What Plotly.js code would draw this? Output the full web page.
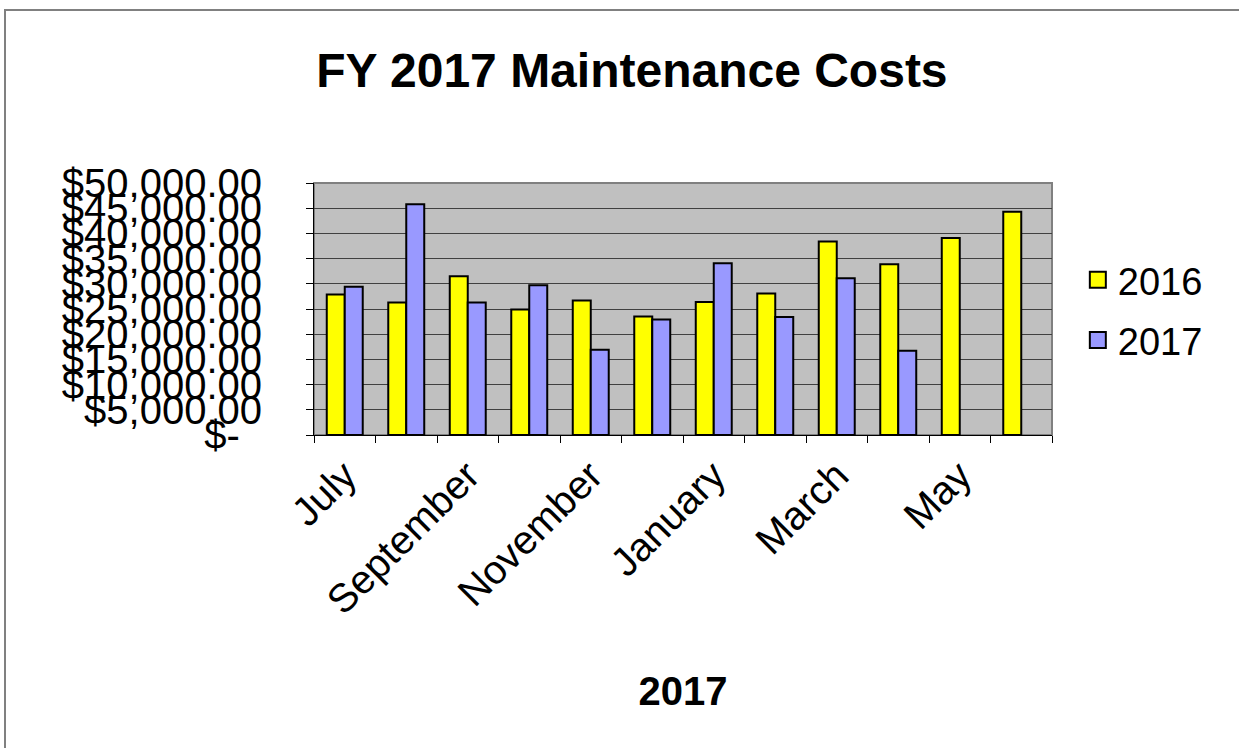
<!DOCTYPE html>
<html>
<head>
<meta charset="utf-8">
<script src="https://cdn.plot.ly/plotly-3.0.1.min.js"></script>
<style>html,body{margin:0;padding:0;background:#fff;}#chart{width:1239px;height:748px;}</style>
</head>
<body>
<div id="chart"></div>
<script>
const months = ["July","August","September","October","November","December","January","February","March","April","May","June"];
const monthLabels = ["July","","September","","November","","January","","March","","May",""];
const costs2016 = [27900, 26300, 31500, 24900, 26700, 23500, 26400, 28100, 38400, 33900, 39100, 44300];
const costs2017 = [29400, 45800, 26300, 29700, 16900, 22900, 34100, 23400, 31100, 16700, null, null];
const seriesNames = ["2016","2017"];
const seriesColors = ["#FFFF00","#9999FF"];
const yTickVals = [0,5000,10000,15000,20000,25000,30000,35000,40000,45000,50000];
const yTickText = ["$-\u00a0\u00a0","$5,000.00","$10,000.00","$15,000.00","$20,000.00","$25,000.00","$30,000.00","$35,000.00","$40,000.00","$45,000.00","$50,000.00"];

const FONT = "Liberation Sans, Arial, sans-serif";
const series = [costs2016, costs2017];
const traces = [];
series.forEach((vals, i) => {
  traces.push({type:"bar", name:seriesNames[i], x:months, y:vals, showlegend:false,
    marker:{color:seriesColors[i], line:{color:"#000000", width:2}}});
});
// legend entries (square swatches)
series.forEach((vals, i) => {
  traces.push({type:"scatter", mode:"markers", name:seriesNames[i], x:[null], y:[null],
    legendgroup:"g"+i, showlegend:true,
    marker:{symbol:"square", size:16, color:seriesColors[i], line:{color:"#000", width:2}}});
});
const layout = {
  width:1239, height:748,
  margin:{l:314, r:187, t:183, b:313, pad:0},
  paper_bgcolor:"#ffffff", plot_bgcolor:"#C0C0C0",
  font:{family:FONT, color:"#000000"},
  title:{text:"<b>FY 2017 Maintenance Costs</b>", font:{size:48, family:FONT, color:"#000"},
         x:0.51, xanchor:"center", y:0.906, yanchor:"middle", xref:"container", yref:"container"},
  barmode:"group", bargap:0.415, bargroupgap:0,
  showlegend:true,
  legend:{x:1.035, xanchor:"left", y:0.74, yanchor:"top", font:{size:38, family:FONT},
          traceorder:"grouped", tracegroupgap:8, itemwidth:30, bgcolor:"rgba(0,0,0,0)"},
  xaxis:{type:"category", categoryorder:"array", categoryarray:months,
         tickmode:"array", tickvals:months, ticktext:monthLabels, tickson:"boundaries",
         ticks:"outside", ticklen:7, tickcolor:"#000", tickwidth:1, tickangle:-45,
         tickfont:{size:40, family:FONT},
         showgrid:false, showline:true, linecolor:"#000", linewidth:1, mirror:false,
         title:{text:"<b>2017</b>", font:{size:40, family:FONT}, standoff:55},
         automargin:false, zeroline:false},
  yaxis:{range:[0,50000], tickmode:"array", tickvals:yTickVals, ticktext:yTickText,
         ticks:"outside", ticklen:7, tickcolor:"#000", tickwidth:1,
         tickfont:{size:40, family:FONT}, ticklabelstandoff:36,
         showgrid:true, gridcolor:"#404040", gridwidth:1,
         showline:true, linecolor:"#000", linewidth:1, zeroline:false, automargin:false},
  shapes:[
    {type:"rect", xref:"paper", yref:"paper", x0:0, x1:1, y0:0, y1:1,
     line:{color:"#808080", width:2}, fillcolor:"rgba(0,0,0,0)", layer:"below"},
    {type:"rect", xref:"paper", yref:"paper", x0:-0.4187, x1:1.5, y0:-2, y1:1.6865,
     line:{color:"#808080", width:2}, fillcolor:"rgba(0,0,0,0)", layer:"below"}
  ]
};
Plotly.newPlot("chart", traces, layout, {displayModeBar:false, staticPlot:true});
</script>
</body>
</html>
